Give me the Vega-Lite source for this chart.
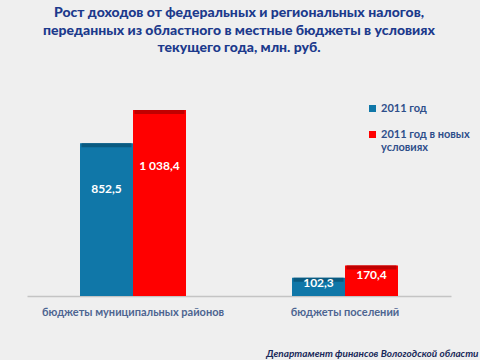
{
  "$schema": "https://vega.github.io/schema/vega-lite/v6.json",
  "width": 424,
  "height": 215,
  "autosize": {"type": "none"},
  "padding": {"left": 27, "top": 81, "right": 29, "bottom": 64},
  "background": "#efefef",
  "config": {"view": {"stroke": null}},
  "title": {
    "text": ["Рост доходов от федеральных и региональных налогов,", "переданных из  областного в местные бюджеты в условиях", "текущего года, млн. руб."],
    "font": "Lato",
    "fontSize": 14,
    "fontWeight": 900,
    "color": "#1c3a8c",
    "anchor": "middle",
    "lineHeight": 17.5,
    "offset": 26
  },
  "data": {
    "values": [
      {"group": "бюджеты муниципальных районов", "series": "2011 год", "value": 852.5, "label": "852,5"},
      {"group": "бюджеты муниципальных районов", "series": "2011 год в новых условиях", "value": 1038.4, "label": "1 038,4"},
      {"group": "бюджеты поселений", "series": "2011 год", "value": 102.3, "label": "102,3"},
      {"group": "бюджеты поселений", "series": "2011 год в новых условиях", "value": 170.4, "label": "170,4"}
    ]
  },
  "encoding": {
    "x": {
      "field": "group",
      "type": "nominal",
      "sort": null,
      "scale": {"paddingInner": 0, "paddingOuter": 0},
      "axis": {
        "labelAngle": 0,
        "labelFont": "Lato",
        "labelFontSize": 11,
        "labelFontWeight": "bold",
        "labelColor": "#4d6591",
        "labelLimit": 300,
        "labelPadding": 10,
        "ticks": false,
        "domainColor": "#c4c4c4",
        "domainWidth": 1.5,
        "title": "Департамент  финансов Вологодской области",
        "titleFont": "Lato",
        "titleFontSize": 10,
        "titleFontStyle": "italic",
        "titleFontWeight": "bold",
        "titleColor": "#1a2a5a",
        "titleAlign": "right",
        "titleAnchor": "end",
        "titleX": 451,
        "titleY": 62,
        "titleBaseline": "bottom"
      }
    },
    "xOffset": {"field": "series", "type": "nominal", "sort": null, "scale": {"paddingInner": 0, "paddingOuter": 1.12}}
  },
  "layer": [
    {
      "mark": {"type": "bar"},
      "encoding": {
        "y": {"field": "value", "type": "quantitative", "scale": {"domain": [0, 1200]}, "axis": null},
        "color": {
          "field": "series",
          "type": "nominal",
          "sort": null,
          "scale": {"range": ["#1077a8", "#ff0000"]},
          "legend": {
            "title": null,
            "orient": "none",
            "legendX": 340,
            "legendY": 22,
            "symbolType": "square",
            "symbolSize": 49,
            "symbolStrokeWidth": 0,
            "labelFont": "Lato",
            "labelFontSize": 11,
            "labelFontWeight": "bold",
            "labelColor": "#2e4e8a",
            "labelLimit": 200,
            "labelOffset": 3,
            "rowPadding": 14,
            "labelExpr": "datum.label == '2011 год в новых условиях' ? ['2011 год в новых', 'условиях'] : datum.label"
          }
        }
      }
    },
    {
      "mark": {"type": "tick", "orient": "horizontal", "size": 50, "thickness": 4, "yOffset": 2},
      "encoding": {
        "y": {"field": "value", "type": "quantitative", "scale": {"domain": [0, 1200]}, "axis": null},
        "fill": {"field": "series", "type": "nominal", "sort": null, "scale": {"range": ["#0a5a80", "#c00000"]}, "legend": null},
        "opacity": {"value": 1}
      }
    },
    {
      "mark": {"type": "text", "color": "white", "font": "Lato", "fontWeight": "bold", "fontSize": 12},
      "encoding": {
        "y": {"field": "value", "type": "quantitative", "scale": {"domain": [0, 1714]}, "axis": null},
        "text": {"field": "label"}
      }
    }
  ],
  "resolve": {"scale": {"y": "independent"}}
}
